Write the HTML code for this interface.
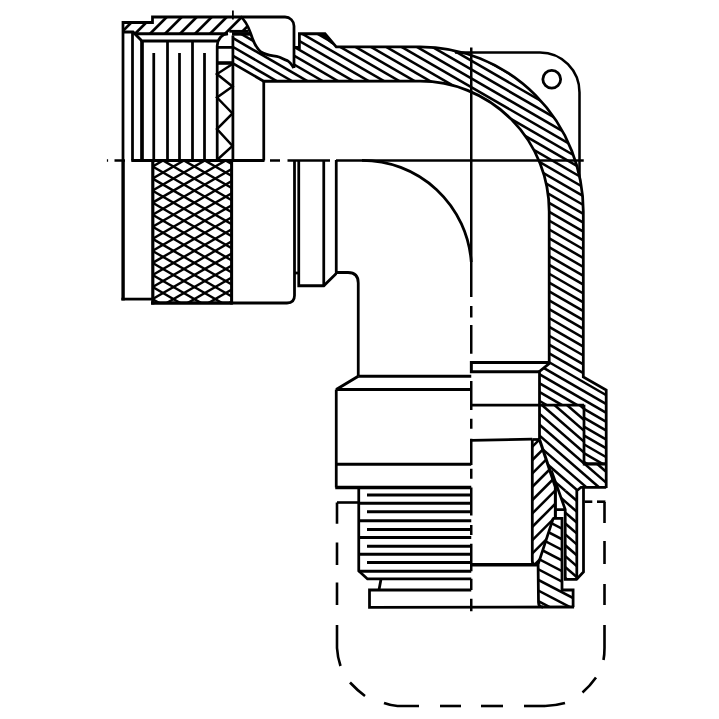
<!DOCTYPE html>
<html><head><meta charset="utf-8"><title>Connector drawing</title>
<style>html,body{margin:0;padding:0;background:#fff}svg{display:block}</style></head>
<body><svg width="719" height="719" viewBox="0 0 719 719" fill="none" stroke="#000" stroke-linecap="butt" stroke-linejoin="miter" stroke-miterlimit="2">
<rect x="0" y="0" width="719" height="719" fill="#fff" stroke="none"/>
<defs><clipPath id="c1"><path d="M123,22.5 L152,22.5 L153,17 L240.5,17 C244,19 247,24 250,32 L229,32 L228,33.75 L135,33.75 L133,32 L123,32 Z"/></clipPath><clipPath id="kn"><rect x="152.8" y="160.5" width="78.79999999999998" height="142.5"/></clipPath><clipPath id="c2"><path d="M232.9,35.5 L250,33 C253,41 256,48 261,52 C266,55.5 273,55.5 279,57 C283,58.5 284,60 287.5,60.6 C290,62 292,65 293.8,68 L294,47.5 L299.4,47.5 L299.4,33.75 L325,33.75 L336.25,46.9 L420,46.9 A163.3,164.6 0 0 1 583.3,211.5 L583.3,376.9 L606.2,390 L606.2,464 L584,464 L584,404.7 L539.5,404.7 L539.5,371.3 L549.2,363.6 L549.2,211.5 A129.2,130.3 0 0 0 420,81.2 L263.75,81.25 L232.9,63.4 Z"/></clipPath><clipPath id="c3"><path d="M539.5,404.7 L584,404.7 L584,464 L606.2,464 L606.2,487.3 L581,487.3 L576.8,490.5 L565,490.5 L565,509 L551.5,471 L550,471 L539.5,439.5 Z"/></clipPath><clipPath id="c4"><path d="M565,490.5 L576.8,490.5 L576.8,579.4 L565,579.4 Z"/></clipPath><clipPath id="c5"><path d="M532.3,439.5 L539.5,439.5 L555.4,487 L555.4,518.4 L553.2,518.4 L538.1,564.4 L532.3,564.4 Z"/></clipPath><clipPath id="c6"><path d="M553.2,518.4 L562,518.4 L562,590 L573.1,590 L573.1,607 L538.5,607 L538.5,564.4 Z"/></clipPath></defs>
<g stroke-width="2.5">
<line x1="106.9" y1="160.5" x2="108.1" y2="160.5"/>
<line x1="114.5" y1="160.5" x2="125" y2="160.5"/>
<line x1="131.5" y1="160.5" x2="264" y2="160.5"/>
<line x1="270" y1="160.5" x2="280" y2="160.5"/>
<line x1="287.5" y1="160.5" x2="330" y2="160.5"/>
<line x1="336" y1="160.5" x2="583.75" y2="160.5"/>
<line x1="471.25" y1="47.5" x2="471.25" y2="297"/>
<line x1="471.25" y1="306" x2="471.25" y2="317.5"/>
<line x1="471.25" y1="325" x2="471.25" y2="353.75"/>
<line x1="471.25" y1="362.5" x2="471.25" y2="372.5"/>
<line x1="471.25" y1="381" x2="471.25" y2="410"/>
<line x1="471.25" y1="418.75" x2="471.25" y2="428.75"/>
<line x1="471.25" y1="438.75" x2="471.25" y2="465"/>
<line x1="471.25" y1="468.75" x2="471.25" y2="478.75"/>
<line x1="471.25" y1="487.5" x2="471.25" y2="515.5"/>
<line x1="471.25" y1="525" x2="471.25" y2="535"/>
<line x1="471.25" y1="543.75" x2="471.25" y2="571.25"/>
<line x1="471.25" y1="578.75" x2="471.25" y2="590"/>
<line x1="471.25" y1="598.75" x2="471.25" y2="611.25"/>
<line x1="232.9" y1="10.5" x2="232.9" y2="19.5" stroke-width="1.8"/>
</g>
<g clip-path="url(#c1)" stroke-width="2.69">
<line x1="120.0" y1="18.8" x2="124.8" y2="14.0"/>
<line x1="120.0" y1="33.8" x2="139.8" y2="14.0"/>
<line x1="132.0" y1="36.8" x2="154.8" y2="14.0"/>
<line x1="147.0" y1="36.8" x2="169.8" y2="14.0"/>
<line x1="162.0" y1="36.8" x2="184.8" y2="14.0"/>
<line x1="177.0" y1="36.8" x2="199.8" y2="14.0"/>
<line x1="192.0" y1="36.8" x2="214.8" y2="14.0"/>
<line x1="207.0" y1="36.8" x2="229.8" y2="14.0"/>
<line x1="222.0" y1="36.8" x2="244.8" y2="14.0"/>
<line x1="237.0" y1="36.8" x2="253.0" y2="20.8"/>
<line x1="252.0" y1="36.8" x2="253.0" y2="35.8"/>
</g>
<path d="M123,160 L123,22.5 L152.5,22.5 L152.5,17 L285,17 A9,9 0 0 1 294,26 L294,68" stroke-width="2.76" />
<path d="M123,32 L133,32 L142,41 L218,41" stroke-width="2.76" />
<path d="M135,33.75 L228,33.75" stroke-width="2.76" />
<path d="M228,33.75 Q218,35 217.2,46" stroke-width="2.76" />
<path d="M229.3,31.3 L248.5,31.3" stroke-width="2.76" />
<line x1="232.00" y1="33.90" x2="250.50" y2="33.90" stroke-width="3.59" />
<path d="M240.5,16.5 C245,20 248,26 250.5,33 C253,41 256,48 261,52 C266,55.5 273,55.5 279,57 C283,58.5 284,60 287.5,60.6 C290,62 292,65 293.8,68" stroke-width="2.76" />
<line x1="132.50" y1="32.00" x2="132.50" y2="160.50" stroke-width="2.76" />
<line x1="167.50" y1="41.00" x2="167.50" y2="160.50" stroke-width="2.76" />
<line x1="192.50" y1="41.00" x2="192.50" y2="160.50" stroke-width="2.76" />
<line x1="142" y1="40" x2="142" y2="160.5" stroke-width="3.7"/>
<line x1="153.75" y1="53.00" x2="153.75" y2="160.50" stroke-width="2.76" />
<line x1="179.50" y1="53.00" x2="179.50" y2="160.50" stroke-width="2.76" />
<line x1="204.50" y1="53.00" x2="204.50" y2="160.50" stroke-width="2.76" />
<line x1="217.20" y1="46.00" x2="217.20" y2="160.50" stroke-width="2.76" />
<line x1="232.90" y1="35.50" x2="232.90" y2="160.50" stroke-width="2.76" />
<line x1="217.20" y1="47.40" x2="232.90" y2="47.40" stroke-width="2.76" />
<line x1="216.50" y1="63.00" x2="233.50" y2="63.00" stroke-width="3.59" />
<path d="M232.50,64.00 L217.00,74.00 L232.50,86.50 L217.00,97.50 L232.50,113.50 L217.00,129.00 L232.50,146.00 L217.00,160.00" stroke-width="2.48" />
<line x1="131.50" y1="160.50" x2="264.50" y2="160.50" stroke-width="2.76" />
<line x1="263.75" y1="81.25" x2="263.75" y2="160.50" stroke-width="2.76" />
<g clip-path="url(#kn)" stroke-width="2.4">
<line x1="-429.60" y1="-12.47" x2="170.40" y2="333.47"/>
<line x1="-429.60" y1="333.47" x2="170.40" y2="-12.47"/>
<line x1="-408.70" y1="-12.47" x2="191.30" y2="333.47"/>
<line x1="-408.70" y1="333.47" x2="191.30" y2="-12.47"/>
<line x1="-387.80" y1="-12.47" x2="212.20" y2="333.47"/>
<line x1="-387.80" y1="333.47" x2="212.20" y2="-12.47"/>
<line x1="-366.90" y1="-12.47" x2="233.10" y2="333.47"/>
<line x1="-366.90" y1="333.47" x2="233.10" y2="-12.47"/>
<line x1="-346.00" y1="-12.47" x2="254.00" y2="333.47"/>
<line x1="-346.00" y1="333.47" x2="254.00" y2="-12.47"/>
<line x1="-325.10" y1="-12.47" x2="274.90" y2="333.47"/>
<line x1="-325.10" y1="333.47" x2="274.90" y2="-12.47"/>
<line x1="-304.20" y1="-12.47" x2="295.80" y2="333.47"/>
<line x1="-304.20" y1="333.47" x2="295.80" y2="-12.47"/>
<line x1="-283.30" y1="-12.47" x2="316.70" y2="333.47"/>
<line x1="-283.30" y1="333.47" x2="316.70" y2="-12.47"/>
<line x1="-262.40" y1="-12.47" x2="337.60" y2="333.47"/>
<line x1="-262.40" y1="333.47" x2="337.60" y2="-12.47"/>
<line x1="-241.50" y1="-12.47" x2="358.50" y2="333.47"/>
<line x1="-241.50" y1="333.47" x2="358.50" y2="-12.47"/>
<line x1="-220.60" y1="-12.47" x2="379.40" y2="333.47"/>
<line x1="-220.60" y1="333.47" x2="379.40" y2="-12.47"/>
<line x1="-199.70" y1="-12.47" x2="400.30" y2="333.47"/>
<line x1="-199.70" y1="333.47" x2="400.30" y2="-12.47"/>
<line x1="-178.80" y1="-12.47" x2="421.20" y2="333.47"/>
<line x1="-178.80" y1="333.47" x2="421.20" y2="-12.47"/>
<line x1="-157.90" y1="-12.47" x2="442.10" y2="333.47"/>
<line x1="-157.90" y1="333.47" x2="442.10" y2="-12.47"/>
<line x1="-137.00" y1="-12.47" x2="463.00" y2="333.47"/>
<line x1="-137.00" y1="333.47" x2="463.00" y2="-12.47"/>
<line x1="-116.10" y1="-12.47" x2="483.90" y2="333.47"/>
<line x1="-116.10" y1="333.47" x2="483.90" y2="-12.47"/>
<line x1="-95.20" y1="-12.47" x2="504.80" y2="333.47"/>
<line x1="-95.20" y1="333.47" x2="504.80" y2="-12.47"/>
<line x1="-74.30" y1="-12.47" x2="525.70" y2="333.47"/>
<line x1="-74.30" y1="333.47" x2="525.70" y2="-12.47"/>
<line x1="-53.40" y1="-12.47" x2="546.60" y2="333.47"/>
<line x1="-53.40" y1="333.47" x2="546.60" y2="-12.47"/>
<line x1="-32.50" y1="-12.47" x2="567.50" y2="333.47"/>
<line x1="-32.50" y1="333.47" x2="567.50" y2="-12.47"/>
<line x1="-11.60" y1="-12.47" x2="588.40" y2="333.47"/>
<line x1="-11.60" y1="333.47" x2="588.40" y2="-12.47"/>
<line x1="9.30" y1="-12.47" x2="609.30" y2="333.47"/>
<line x1="9.30" y1="333.47" x2="609.30" y2="-12.47"/>
<line x1="30.20" y1="-12.47" x2="630.20" y2="333.47"/>
<line x1="30.20" y1="333.47" x2="630.20" y2="-12.47"/>
<line x1="51.10" y1="-12.47" x2="651.10" y2="333.47"/>
<line x1="51.10" y1="333.47" x2="651.10" y2="-12.47"/>
<line x1="72.00" y1="-12.47" x2="672.00" y2="333.47"/>
<line x1="72.00" y1="333.47" x2="672.00" y2="-12.47"/>
<line x1="92.90" y1="-12.47" x2="692.90" y2="333.47"/>
<line x1="92.90" y1="333.47" x2="692.90" y2="-12.47"/>
<line x1="113.80" y1="-12.47" x2="713.80" y2="333.47"/>
<line x1="113.80" y1="333.47" x2="713.80" y2="-12.47"/>
<line x1="134.70" y1="-12.47" x2="734.70" y2="333.47"/>
<line x1="134.70" y1="333.47" x2="734.70" y2="-12.47"/>
<line x1="155.60" y1="-12.47" x2="755.60" y2="333.47"/>
<line x1="155.60" y1="333.47" x2="755.60" y2="-12.47"/>
<line x1="176.50" y1="-12.47" x2="776.50" y2="333.47"/>
<line x1="176.50" y1="333.47" x2="776.50" y2="-12.47"/>
<line x1="197.40" y1="-12.47" x2="797.40" y2="333.47"/>
<line x1="197.40" y1="333.47" x2="797.40" y2="-12.47"/>
<line x1="218.30" y1="-12.47" x2="818.30" y2="333.47"/>
<line x1="218.30" y1="333.47" x2="818.30" y2="-12.47"/>
</g>
<line x1="152.80" y1="160.50" x2="152.80" y2="304.50" stroke-width="3.17" />
<line x1="231.60" y1="160.50" x2="231.60" y2="304.50" stroke-width="3.04" />
<line x1="151.30" y1="303.00" x2="232.60" y2="303.00" stroke-width="3.17" />
<line x1="121.40" y1="299.10" x2="152.00" y2="299.10" stroke-width="2.76" />
<line x1="123.1" y1="160" x2="123.1" y2="300.4" stroke-width="3.4"/>
<path d="M151,303 L287,303 Q294.5,303 294.5,295.5 L294.5,160" stroke-width="2.76" />
<path d="M298.75,160 L298.75,285.75 L323.75,285.75 L336.25,273.5" stroke-width="2.76" />
<line x1="323.75" y1="160.00" x2="323.75" y2="286.50" stroke-width="2.76" />
<line x1="294.50" y1="273.00" x2="300.00" y2="273.00" stroke-width="2.76" />
<path d="M336.25,160 L336.25,272.5 L348,272.5 Q358.25,272.5 358.25,283 L358.25,376.25" stroke-width="2.76" />
<g clip-path="url(#c2)" stroke-width="2.53">
<line x1="602.2" y1="30.0" x2="609.2" y2="34.1"/>
<line x1="586.8" y1="30.0" x2="609.2" y2="42.9"/>
<line x1="571.5" y1="30.0" x2="609.2" y2="51.8"/>
<line x1="556.2" y1="30.0" x2="609.2" y2="60.6"/>
<line x1="540.9" y1="30.0" x2="609.2" y2="69.5"/>
<line x1="525.5" y1="30.0" x2="609.2" y2="78.3"/>
<line x1="510.2" y1="30.0" x2="609.2" y2="87.2"/>
<line x1="494.9" y1="30.0" x2="609.2" y2="96.0"/>
<line x1="479.5" y1="30.0" x2="609.2" y2="104.9"/>
<line x1="464.2" y1="30.0" x2="609.2" y2="113.7"/>
<line x1="448.9" y1="30.0" x2="609.2" y2="122.6"/>
<line x1="433.5" y1="30.0" x2="609.2" y2="131.4"/>
<line x1="418.2" y1="30.0" x2="609.2" y2="140.3"/>
<line x1="402.9" y1="30.0" x2="609.2" y2="149.1"/>
<line x1="387.6" y1="30.0" x2="609.2" y2="158.0"/>
<line x1="372.2" y1="30.0" x2="609.2" y2="166.8"/>
<line x1="356.9" y1="30.0" x2="609.2" y2="175.7"/>
<line x1="341.6" y1="30.0" x2="609.2" y2="184.5"/>
<line x1="326.2" y1="30.0" x2="609.2" y2="193.4"/>
<line x1="310.9" y1="30.0" x2="609.2" y2="202.2"/>
<line x1="295.6" y1="30.0" x2="609.2" y2="211.1"/>
<line x1="280.3" y1="30.0" x2="609.2" y2="219.9"/>
<line x1="264.9" y1="30.0" x2="609.2" y2="228.8"/>
<line x1="249.6" y1="30.0" x2="609.2" y2="237.6"/>
<line x1="234.3" y1="30.0" x2="609.2" y2="246.5"/>
<line x1="218.9" y1="30.0" x2="609.2" y2="255.3"/>
<line x1="203.6" y1="30.0" x2="609.2" y2="264.2"/>
<line x1="188.3" y1="30.0" x2="609.2" y2="273.0"/>
<line x1="173.0" y1="30.0" x2="609.2" y2="281.9"/>
<line x1="157.6" y1="30.0" x2="609.2" y2="290.7"/>
<line x1="142.3" y1="30.0" x2="609.2" y2="299.6"/>
<line x1="127.0" y1="30.0" x2="609.2" y2="308.4"/>
<line x1="126.2" y1="38.4" x2="609.2" y2="317.3"/>
<line x1="126.2" y1="47.3" x2="609.2" y2="326.1"/>
<line x1="126.2" y1="56.1" x2="609.2" y2="335.0"/>
<line x1="126.2" y1="65.0" x2="609.2" y2="343.8"/>
<line x1="126.2" y1="73.8" x2="609.2" y2="352.7"/>
<line x1="126.2" y1="82.7" x2="609.2" y2="361.5"/>
<line x1="126.2" y1="91.5" x2="609.2" y2="370.4"/>
<line x1="126.2" y1="100.4" x2="609.2" y2="379.2"/>
<line x1="126.2" y1="109.2" x2="609.2" y2="388.1"/>
<line x1="126.2" y1="118.1" x2="609.2" y2="396.9"/>
<line x1="126.2" y1="126.9" x2="609.2" y2="405.8"/>
<line x1="126.2" y1="135.8" x2="609.2" y2="414.6"/>
<line x1="126.2" y1="144.6" x2="609.2" y2="423.5"/>
<line x1="126.2" y1="153.5" x2="609.2" y2="432.3"/>
<line x1="126.2" y1="162.3" x2="609.2" y2="441.2"/>
<line x1="126.2" y1="171.2" x2="609.2" y2="450.0"/>
<line x1="126.2" y1="180.0" x2="609.2" y2="458.9"/>
<line x1="126.2" y1="188.9" x2="608.0" y2="467.0"/>
<line x1="126.2" y1="197.7" x2="592.6" y2="467.0"/>
<line x1="126.2" y1="206.6" x2="577.3" y2="467.0"/>
<line x1="126.2" y1="215.4" x2="562.0" y2="467.0"/>
<line x1="126.2" y1="224.3" x2="546.7" y2="467.0"/>
<line x1="126.2" y1="233.1" x2="531.3" y2="467.0"/>
<line x1="126.2" y1="242.0" x2="516.0" y2="467.0"/>
<line x1="126.2" y1="250.8" x2="500.7" y2="467.0"/>
<line x1="126.2" y1="259.7" x2="485.3" y2="467.0"/>
<line x1="126.2" y1="268.5" x2="470.0" y2="467.0"/>
<line x1="126.2" y1="277.4" x2="454.7" y2="467.0"/>
<line x1="126.2" y1="286.2" x2="439.4" y2="467.0"/>
<line x1="126.2" y1="295.1" x2="424.0" y2="467.0"/>
<line x1="126.2" y1="303.9" x2="408.7" y2="467.0"/>
<line x1="126.2" y1="312.8" x2="393.4" y2="467.0"/>
<line x1="126.2" y1="321.6" x2="378.0" y2="467.0"/>
<line x1="126.2" y1="330.5" x2="362.7" y2="467.0"/>
<line x1="126.2" y1="339.3" x2="347.4" y2="467.0"/>
<line x1="126.2" y1="348.2" x2="332.1" y2="467.0"/>
<line x1="126.2" y1="357.0" x2="316.7" y2="467.0"/>
<line x1="126.2" y1="365.9" x2="301.4" y2="467.0"/>
<line x1="126.2" y1="374.7" x2="286.1" y2="467.0"/>
<line x1="126.2" y1="383.6" x2="270.7" y2="467.0"/>
<line x1="126.2" y1="392.4" x2="255.4" y2="467.0"/>
<line x1="126.2" y1="401.3" x2="240.1" y2="467.0"/>
<line x1="126.2" y1="410.1" x2="224.8" y2="467.0"/>
<line x1="126.2" y1="419.0" x2="209.4" y2="467.0"/>
<line x1="126.2" y1="427.8" x2="194.1" y2="467.0"/>
<line x1="126.2" y1="436.7" x2="178.8" y2="467.0"/>
<line x1="126.2" y1="445.5" x2="163.4" y2="467.0"/>
<line x1="126.2" y1="454.4" x2="148.1" y2="467.0"/>
<line x1="126.2" y1="463.2" x2="132.8" y2="467.0"/>
</g>
<path d="M294,47.5 L299.4,47.5 L299.4,33.75 L325,33.75 L336.25,46.9 L420,46.9 A163.3,164.6 0 0 1 583.3,211.5 L583.3,376.9 L606.2,390 L606.2,488" stroke-width="2.76" />
<path d="M232.9,63.4 L263.75,81.25 L420,81.2 A129.2,130.3 0 0 1 549.2,211.5 L549.2,363.6 L539.5,371.3 L539.5,439.5" stroke-width="2.76" />
<path d="M320,34.3 L325,33.75 L335.5,46 L331,43.8 Z" fill="#000" stroke="none"/>
<path d="M455,52.5 L540,52.5 A39.5,40 0 0 1 579.5,92.5 L579.5,177" stroke-width="2.55" />
<circle cx="551.75" cy="79.3" r="8.9" stroke-width="2.8"/>
<path d="M362,160.3 A109.5,109.5 0 0 1 471.25,262" stroke-width="2.76" />
<path d="M358.25,376.25 L471.25,376.25" stroke-width="2.76" />
<path d="M358.25,376.25 L336.25,389.5 L471.25,389.5" stroke-width="3.04" />
<line x1="336.25" y1="389.50" x2="336.25" y2="487.50" stroke-width="2.76" />
<line x1="336.25" y1="464.25" x2="471.25" y2="464.25" stroke-width="2.76" />
<line x1="335.25" y1="487.50" x2="471.25" y2="487.50" stroke-width="3.31" />
<path d="M358.75,487.5 L358.75,571 L367.5,578.9 L471.25,578.9" stroke-width="2.76" />
<line x1="358.75" y1="503.25" x2="471.25" y2="503.25" stroke-width="2.76" />
<line x1="358.75" y1="520.75" x2="471.25" y2="520.75" stroke-width="2.76" />
<line x1="358.75" y1="537.50" x2="471.25" y2="537.50" stroke-width="2.76" />
<line x1="358.75" y1="554.25" x2="471.25" y2="554.25" stroke-width="2.76" />
<line x1="358.75" y1="571.25" x2="471.25" y2="571.25" stroke-width="2.76" />
<line x1="367.00" y1="495.00" x2="471.25" y2="495.00" stroke-width="2.76" />
<line x1="367.00" y1="511.75" x2="471.25" y2="511.75" stroke-width="2.76" />
<line x1="367.00" y1="529.50" x2="471.25" y2="529.50" stroke-width="2.76" />
<line x1="367.00" y1="546.25" x2="471.25" y2="546.25" stroke-width="2.76" />
<line x1="367.00" y1="562.50" x2="471.25" y2="562.50" stroke-width="2.76" />
<line x1="381.00" y1="579.00" x2="379.00" y2="590.00" stroke-width="2.76" />
<path d="M471.25,590 L369.5,590 L369.5,607.3 L574.1,607" stroke-width="2.76" />
<path d="M549.2,362.5 L471.25,362.5 L471.25,371.75 L540,371.75" stroke-width="2.76" />
<line x1="471.25" y1="405.20" x2="584.00" y2="405.20" stroke-width="2.76" />
<path d="M584,404.7 L584,464" stroke-width="2.76" />
<line x1="582.8" y1="463.9" x2="606.2" y2="463.9" stroke-width="3.3"/>
<line x1="471.25" y1="440.30" x2="532.30" y2="439.20" stroke-width="2.76" />
<line x1="532.30" y1="439.50" x2="539.50" y2="439.50" stroke-width="2.76" />
<g clip-path="url(#c3)" stroke-width="2.53">
<line x1="600.8" y1="401.7" x2="609.2" y2="409.0"/>
<line x1="588.2" y1="401.7" x2="609.2" y2="419.9"/>
<line x1="575.7" y1="401.7" x2="609.2" y2="430.8"/>
<line x1="563.1" y1="401.7" x2="609.2" y2="441.7"/>
<line x1="550.6" y1="401.7" x2="609.2" y2="452.6"/>
<line x1="538.1" y1="401.7" x2="609.2" y2="463.5"/>
<line x1="536.5" y1="411.2" x2="609.2" y2="474.4"/>
<line x1="536.5" y1="422.1" x2="609.2" y2="485.3"/>
<line x1="536.5" y1="433.0" x2="609.2" y2="496.2"/>
<line x1="536.5" y1="443.9" x2="609.2" y2="507.1"/>
<line x1="536.5" y1="454.8" x2="602.3" y2="512.0"/>
<line x1="536.5" y1="465.7" x2="589.7" y2="512.0"/>
<line x1="536.5" y1="476.6" x2="577.2" y2="512.0"/>
<line x1="536.5" y1="487.5" x2="564.6" y2="512.0"/>
<line x1="536.5" y1="498.4" x2="552.1" y2="512.0"/>
<line x1="536.5" y1="509.3" x2="539.6" y2="512.0"/>
</g>
<g clip-path="url(#c4)" stroke-width="2.53">
<line x1="574.1" y1="487.5" x2="579.8" y2="492.5"/>
<line x1="562.0" y1="487.9" x2="579.8" y2="503.4"/>
<line x1="562.0" y1="498.8" x2="579.8" y2="514.3"/>
<line x1="562.0" y1="509.7" x2="579.8" y2="525.2"/>
<line x1="562.0" y1="520.6" x2="579.8" y2="536.1"/>
<line x1="562.0" y1="531.5" x2="579.8" y2="547.0"/>
<line x1="562.0" y1="542.4" x2="579.8" y2="557.9"/>
<line x1="562.0" y1="553.3" x2="579.8" y2="568.8"/>
<line x1="562.0" y1="564.2" x2="579.8" y2="579.7"/>
<line x1="562.0" y1="575.1" x2="570.4" y2="582.4"/>
</g>
<g clip-path="url(#c5)" stroke-width="2.53">
<line x1="529.3" y1="449.7" x2="542.5" y2="436.5"/>
<line x1="529.3" y1="463.1" x2="555.9" y2="436.5"/>
<line x1="529.3" y1="476.4" x2="558.4" y2="447.3"/>
<line x1="529.3" y1="489.8" x2="558.4" y2="460.7"/>
<line x1="529.3" y1="503.1" x2="558.4" y2="474.0"/>
<line x1="529.3" y1="516.5" x2="558.4" y2="487.4"/>
<line x1="529.3" y1="529.8" x2="558.4" y2="500.7"/>
<line x1="529.3" y1="543.2" x2="558.4" y2="514.1"/>
<line x1="529.3" y1="556.5" x2="558.4" y2="527.4"/>
<line x1="531.8" y1="567.4" x2="558.4" y2="540.8"/>
<line x1="545.1" y1="567.4" x2="558.4" y2="554.1"/>
</g>
<path d="M532.3,439.5 L532.3,561 Q532.3,564.5 535,564.5" stroke-width="2.76" />
<path d="M539.5,439.5 L555.4,487 L555.4,518.4" stroke-width="3.04" />
<path d="M551.3,470.5 L565.2,509.4 L565.2,579.4 L576.5,579.4 L583.5,571.9 L583.5,487.3" stroke-width="2.76" />
<path d="M606.2,487.3 L581,487.3 L576.8,490.8 L576.8,579.4" stroke-width="2.76" />
<path d="M555.4,509.6 L565.4,509.6 M552.5,518.4 L562,518.4 L562,590 L573.1,590 L573.1,607" stroke-width="2.76" />
<g clip-path="url(#c6)" stroke-width="2.53">
<line x1="556.8" y1="515.4" x2="576.1" y2="525.4"/>
<line x1="536.4" y1="515.4" x2="576.1" y2="536.0"/>
<line x1="535.5" y1="525.5" x2="576.1" y2="546.6"/>
<line x1="535.5" y1="536.1" x2="576.1" y2="557.2"/>
<line x1="535.5" y1="546.7" x2="576.1" y2="567.8"/>
<line x1="535.5" y1="557.3" x2="576.1" y2="578.4"/>
<line x1="535.5" y1="567.9" x2="576.1" y2="589.0"/>
<line x1="535.5" y1="578.5" x2="576.1" y2="599.6"/>
<line x1="535.5" y1="589.1" x2="575.6" y2="610.0"/>
<line x1="535.5" y1="599.7" x2="555.3" y2="610.0"/>
</g>
<path d="M553.2,518.4 L538.1,564.4 L538.5,602.5 Q538.5,607 543,607" stroke-width="2.76" />
<line x1="470.00" y1="564.80" x2="538.50" y2="564.80" stroke-width="3.59" />
<g stroke-width="2.6">
<line x1="337" y1="502.5" x2="337" y2="523.75"/>
<line x1="337" y1="542.5" x2="337" y2="565"/>
<line x1="337" y1="582.5" x2="337" y2="605"/>
<line x1="337" y1="625" x2="337" y2="648"/>
<line x1="337" y1="502.5" x2="358.75" y2="502.5"/>
<path d="M337,648 Q337.5,657 340.5,666" stroke-width="2.62" />
<path d="M350,682.5 Q357,690 365,696" stroke-width="2.62" />
<path d="M384,703 Q391,705.5 397.5,706 L419,706" stroke-width="2.62" />
<line x1="440" y1="706" x2="461" y2="706"/>
<line x1="481" y1="706" x2="503" y2="706"/>
<line x1="524" y1="706" x2="545" y2="706"/>
<path d="M545,706 Q556,705.5 565,703" stroke-width="2.62" />
<path d="M582.5,692.5 Q590,686 596,677.5" stroke-width="2.62" />
<path d="M604.5,625 L604.5,648 Q604.5,655 603.5,660" stroke-width="2.62" />
<line x1="604.5" y1="502" x2="604.5" y2="523"/>
<line x1="604.5" y1="541" x2="604.5" y2="564"/>
<line x1="604.5" y1="584" x2="604.5" y2="605"/>
<line x1="584.6" y1="501.7" x2="592.3" y2="501.7"/>
<line x1="597" y1="501.7" x2="605.4" y2="501.7"/>
</g>
</svg></body></html>
